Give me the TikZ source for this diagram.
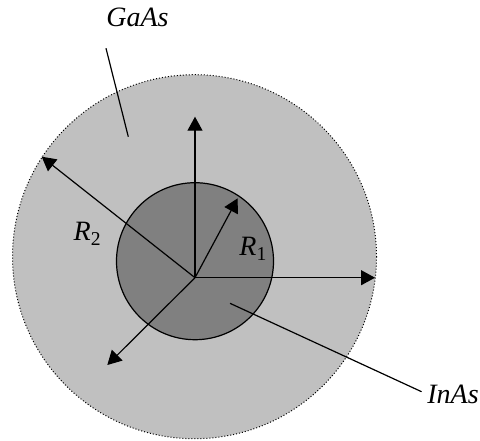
\documentclass[tikz,border=0pt]{standalone}
\usepackage{fontspec}
\setmainfont{Liberation Serif}
\usepackage{tikz}
\usetikzlibrary{arrows.meta}
\definecolor{shellgray}{HTML}{C0C0C0}
\definecolor{coregray}{HTML}{808080}
\tikzset{
  shell/.style={fill=shellgray, draw=black, line width=0.5pt, dash pattern=on 0.5pt off 1pt},
  core/.style={fill=coregray, draw=black, line width=0.6pt},
  arr/.style={-{Triangle[length=7pt,width=7.5pt]}, line width=0.6pt},
  lead/.style={line width=0.6pt},
  lbl/.style={font=\fontsize{14}{16}\selectfont\itshape, inner sep=0pt, anchor=base west}
}
\newcommand{\rlab}[1]{R\textsubscript{\upshape #1}}

\begin{document}
\begin{tikzpicture}[x=0.5pt, y=-0.5pt]
\useasboundingbox (0,0) rectangle (480,440);

\draw[shell] (194.5,256.7) circle[radius=182];
\draw[core] (195,261.2) circle[radius=78.5];

\coordinate (o) at (195,277.7);
\coordinate (tipN) at (195,116.7);
\coordinate (tipE) at (375,277.7);
\coordinate (tipNW) at (41.7,156.7);
\coordinate (tipNE) at (237.7,198.3);
\coordinate (tipSW) at (107.3,365);

\draw[arr] (o) -- (tipN);
\draw[arr] (o) -- (tipE);
\draw[arr] (o) -- (tipNW);
\draw[arr] (o) -- (tipNE);
\draw[arr] (o) -- (tipSW);

\node[lbl] (gaas) at (106,26.7) {GaAs};
\node[lbl] (inas) at (427,403.3) {InAs};
\node[lbl] (r2) at (73.3,240.7) {\rlab{2}};
\node[lbl] (r1) at (239,255.7) {\rlab{1}};

\coordinate (gaasfoot) at (106,48.3);
\coordinate (gaasend) at (128.3,136.7);
\coordinate (inasend) at (230,303.3);
\draw[lead] (gaasfoot) -- (gaasend);
\draw[lead, shorten >=3pt] (inasend) -- (inas.west);
\end{tikzpicture}
\end{document}
